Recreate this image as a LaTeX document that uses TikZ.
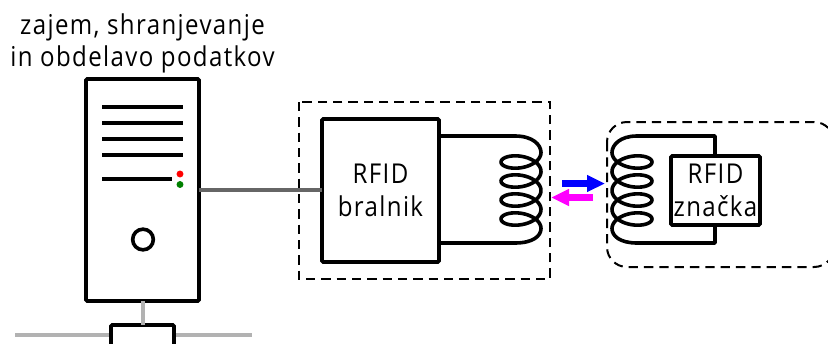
\documentclass[tikz,border=0pt]{standalone}
\usepackage{fontspec}
\setmainfont{Open Sans}[LetterSpace=5,FakeStretch=0.88]
\usetikzlibrary{arrows.meta,positioning,calc}
\definecolor{signalm}{RGB}{255,0,255}

\begin{document}
\begin{tikzpicture}[
  x=0.75pt, y=-0.75pt,
  box/.style={draw, line width=2.7pt, fill=white, rounded corners=0.8pt, inner sep=0pt, outer sep=0pt},
  bar/.style={line width=2.8pt},
  wire/.style={line width=2.7pt, line join=round},
  frame/.style={draw, line width=1.5pt, dash pattern=on 7pt off 4.5pt},
  lan/.style={line width=3pt, black!30},
  lbl/.style={font=\fontsize{20.5}{24.5}\selectfont, align=center, inner sep=0pt},
  led/.style={circle, minimum size=5.2pt, inner sep=0pt},
  signal/.style={-{Triangle[length=13.5pt, width=12pt]}, line width=4.8pt},
]
  \useasboundingbox (0,0) rectangle (828,343);
  \clip (0,0) rectangle (828,343);

  % --- network below the server ---------------------------------------
  \coordinate (lanl) at (15,335);
  \coordinate (lanr) at (252,335);
  \draw[lan] (lanl) -- (lanr);
  \node[box, minimum width=47.25pt, minimum height=30pt, anchor=north] (hub) at (142.5,325) {};

  % --- server ----------------------------------------------------------
  \node[box, minimum width=84.75pt, minimum height=166.5pt, anchor=north west] (server) at (86,79) {};
  \draw[lan] (server.south) -- (hub.north);
  \foreach \y in {107,123,139,155}
    \draw[bar] (102,\y) -- (183,\y);
  \draw[bar] (102,179) -- (172,179);
  \node[led, fill=red] (ledr) at (180,174) {};
  \node[led, fill=green!50!black] (ledg) at (180,184.5) {};
  \node[draw, circle, line width=2.7pt, minimum size=15.5pt, inner sep=0pt] (power) at (143,239.5) {};
  \node[lbl, anchor=south] (title) at (142.5,73.5) {zajem, shranjevanje\\in obdelavo podatkov};

  % --- reader -----------------------------------------------------------
  \draw[frame] (299,102) rectangle (550,279);
  \node[box, lbl, minimum width=87.75pt, minimum height=107.25pt, anchor=north west] (reader) at (322,119) {RFID\\bralnik};
  \draw[line width=3pt, black!60] (server.east |- 0,190) -- (reader.west |- 0,190);
  \draw[wire] (reader.east |- 0,136) -- (515,136) .. controls (533,136) and (541,145) .. (541,152.5)
    plot[domain=0:25.133, samples=160, smooth] ({521+20*cos(\x r)}, {152.5+19*\x/6.2832+10.5*sin(\x r)})
    .. controls (541,236) and (533,243) .. (515,243) -- (reader.east |- 0,243);

  % --- tag --------------------------------------------------------------
  \draw[frame, rounded corners=15pt] (607,122) rectangle (834,267);
  \node[box, lbl, minimum width=66.75pt, minimum height=51.75pt, anchor=north west] (tag) at (671,156) {RFID\\značka};
  \draw[wire] (tag.north -| 715,0) -- (715,136) -- (637,136) .. controls (620,136) and (612,145) .. (612,152.5)
    plot[domain=0:25.133, samples=160, smooth] ({632-20*cos(\x r)}, {152.5+19*\x/6.2832+10.5*sin(\x r)})
    .. controls (612,236) and (620,243) .. (637,243) -- (715,243) -- (tag.south -| 715,0);

  % --- signals ----------------------------------------------------------
  \coordinate (bluea) at (562,183.5);
  \coordinate (blueb) at (605,183.5);
  \coordinate (maga) at (593,197.5);
  \coordinate (magb) at (551,197.5);
  \draw[signal, blue] (bluea) -- (blueb);
  \draw[signal, signalm] (maga) -- (magb);
\end{tikzpicture}
\end{document}
